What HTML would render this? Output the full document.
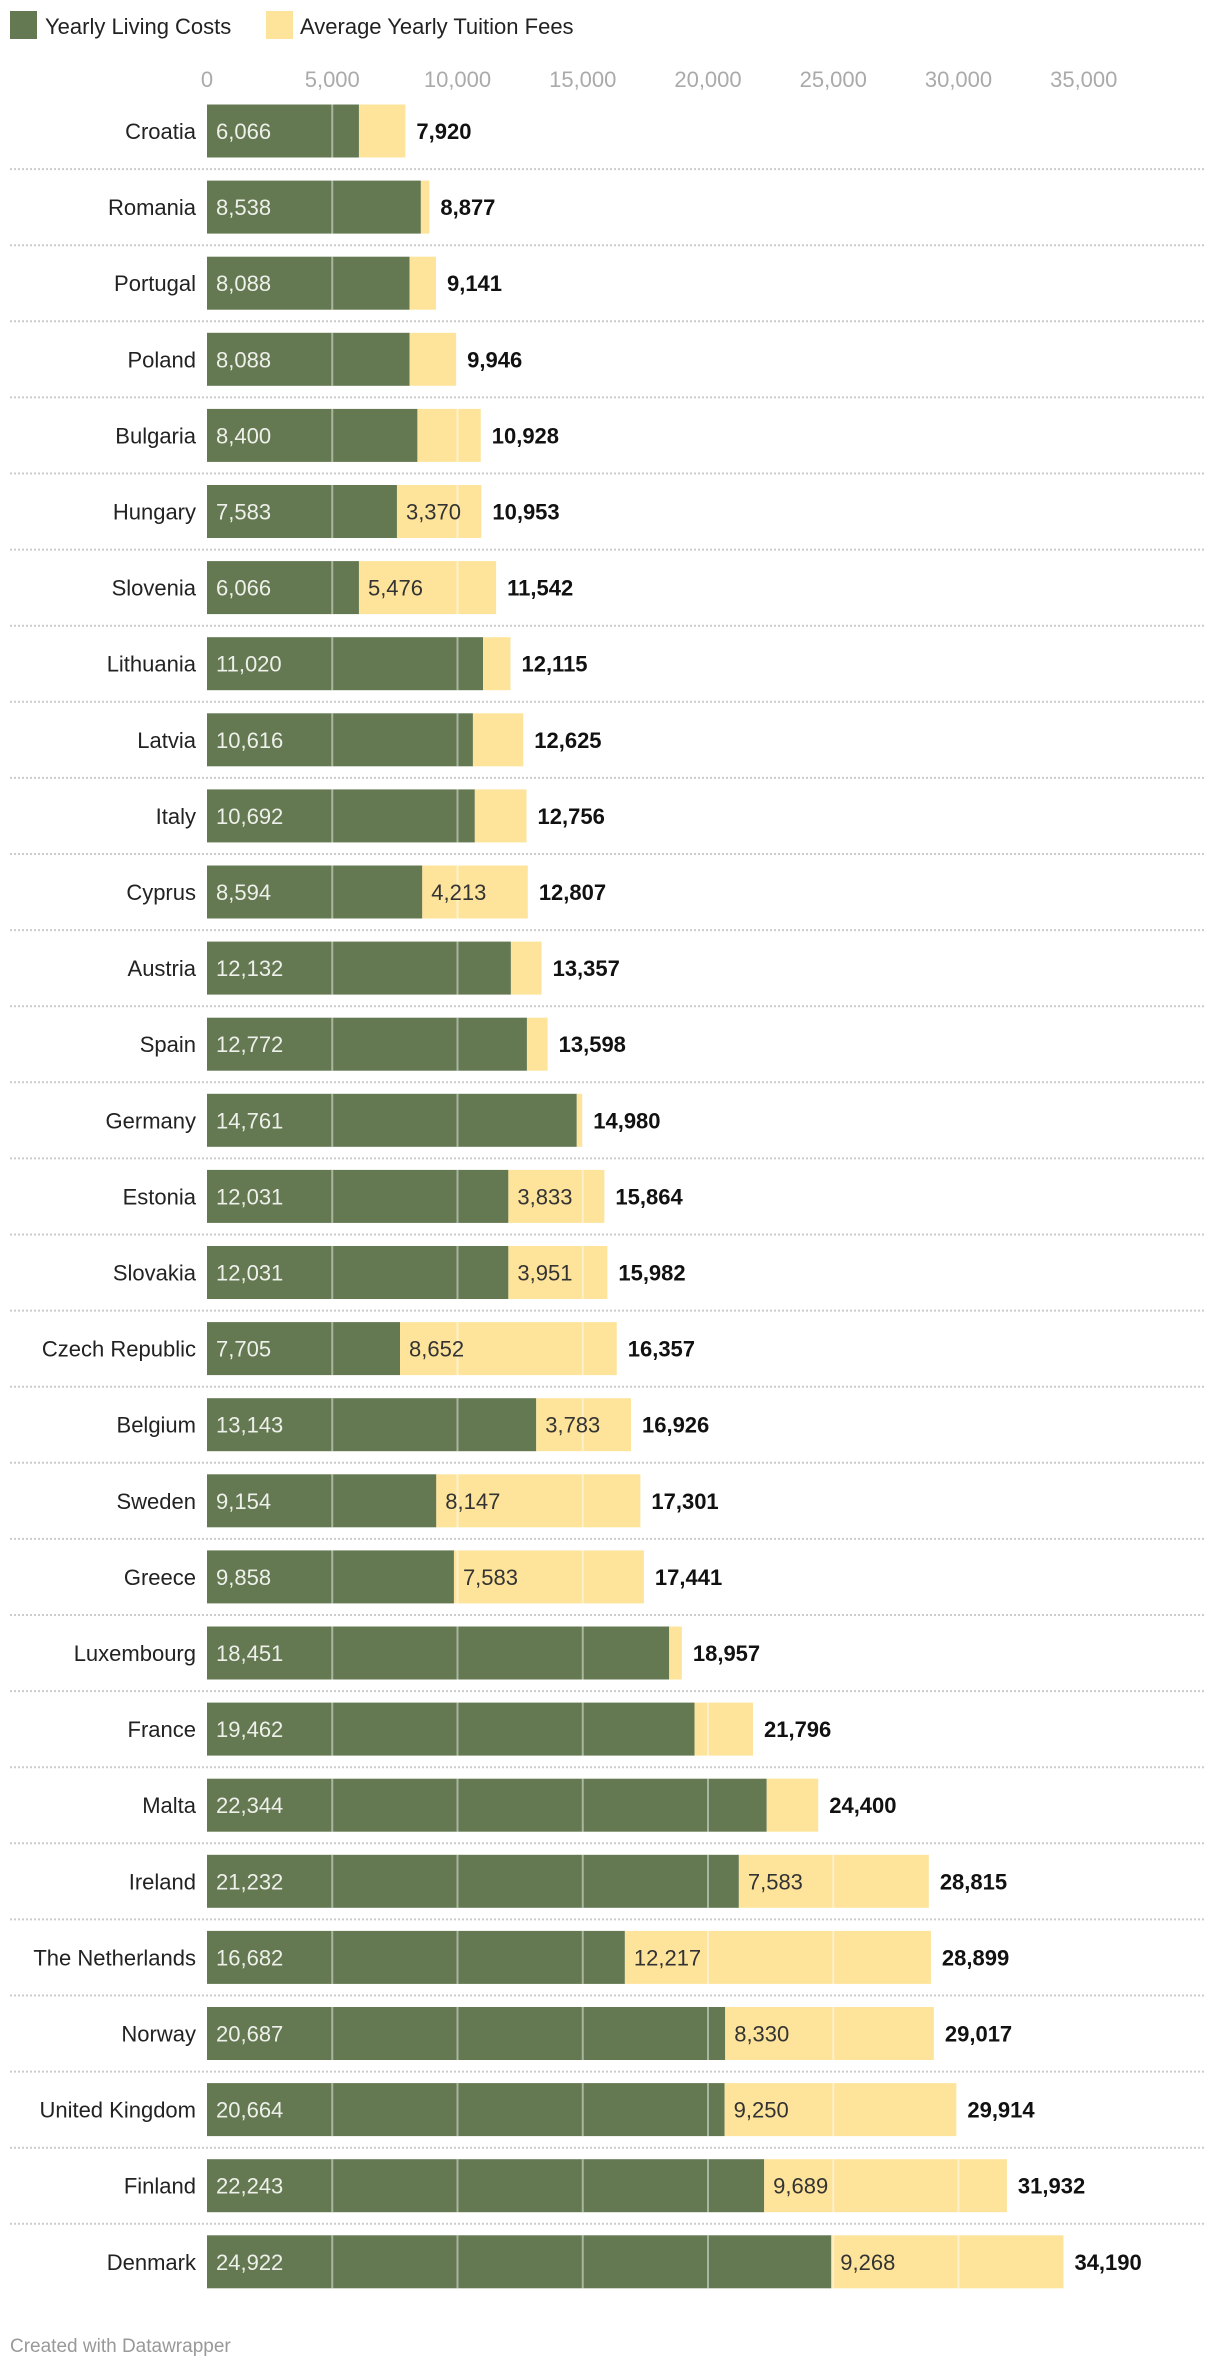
<!DOCTYPE html>
<html><head><meta charset="utf-8"><style>
body{margin:0;background:#fff;width:1220px;height:2364px;overflow:hidden;font-family:"Liberation Sans",sans-serif}
svg text{font-family:"Liberation Sans",sans-serif}
</style></head><body>
<svg id="chart" width="1220" height="2364" xmlns="http://www.w3.org/2000/svg">
<g>
<rect x="10" y="11" width="27" height="28" fill="#647852"/>
<text x="45" y="34" font-size="22" fill="#222">Yearly Living Costs</text>
<rect x="266" y="11" width="27" height="28" fill="#fee49b"/>
<text x="300" y="34" font-size="22" fill="#222">Average Yearly Tuition Fees</text>
</g>
<g id="plot"></g>
<text x="10" y="2352" font-size="19" fill="#999">Created with Datawrapper</text>
</svg>
<script>
const countries=["Croatia","Romania","Portugal","Poland","Bulgaria","Hungary","Slovenia","Lithuania","Latvia","Italy","Cyprus","Austria","Spain","Germany","Estonia","Slovakia","Czech Republic","Belgium","Sweden","Greece","Luxembourg","France","Malta","Ireland","The Netherlands","Norway","United Kingdom","Finland","Denmark"];
const living=[6066,8538,8088,8088,8400,7583,6066,11020,10616,10692,8594,12132,12772,14761,12031,12031,7705,13143,9154,9858,18451,19462,22344,21232,16682,20687,20664,22243,24922];
const tuition=[1854,339,1053,1858,2528,3370,5476,1095,2009,2064,4213,1225,826,219,3833,3951,8652,3783,8147,7583,506,2334,2056,7583,12217,8330,9250,9689,9268];
const ticks=[0,5000,10000,15000,20000,25000,30000,35000];

const NS="http://www.w3.org/2000/svg";
const g=document.getElementById('plot');
const x=v=>207+v*25.05/1000;
const rowY=i=>131+i*76.1;
const BH=53;
const fmt=v=>v.toLocaleString('en-US');
function mk(t,a){const e=document.createElementNS(NS,t);for(const k in a)e.setAttribute(k,a[k]);g.appendChild(e);return e;}
ticks.forEach(t=>{
  const e=mk('text',{x:x(t),y:87,'font-size':22,fill:'#aaa','text-anchor':'middle'});
  
  
  e.textContent=fmt(t);
});
countries.forEach((c,i)=>{
  const cy=rowY(i),y0=cy-BH/2,tot=living[i]+tuition[i];
  if(i>0){const s=mk('line',{x1:10,x2:1205,y1:cy-38,y2:cy-38,stroke:'#ccc','stroke-width':2,'stroke-dasharray':'2,2'});
  
  }
  const l=mk('text',{x:196,y:cy+8,'font-size':22,fill:'#222','text-anchor':'end'});
  
  
  l.textContent=c;
  const b1=mk('rect',{x:x(0),y:y0,width:x(living[i])-x(0),height:BH,fill:'#647852'});
  
  
  const b2=mk('rect',{x:x(living[i]),y:y0,width:x(tot)-x(living[i]),height:BH,fill:'#fee49b'});
  
  
  ticks.slice(1).forEach(t=>{if(t<tot){const gl=mk('line',{x1:x(t),x2:x(t),y1:y0,y2:y0+BH,stroke:'rgba(255,255,255,0.45)','stroke-width':2});
    
    }});
  const v1=mk('text',{x:x(0)+9,y:cy+8,'font-size':22,fill:'#eef0ea'});
  
  
  v1.textContent=fmt(living[i]);
  if(tuition[i]>=3000){const v2=mk('text',{x:x(living[i])+9,y:cy+8,'font-size':22,fill:'#333'});
    
    
    v2.textContent=fmt(tuition[i]);}
  const tt=mk('text',{x:x(tot)+11,y:cy+8,'font-size':22,'font-weight':'bold',fill:'#111'});
  
  
  tt.textContent=fmt(tot);
});
</script>
</body></html>
